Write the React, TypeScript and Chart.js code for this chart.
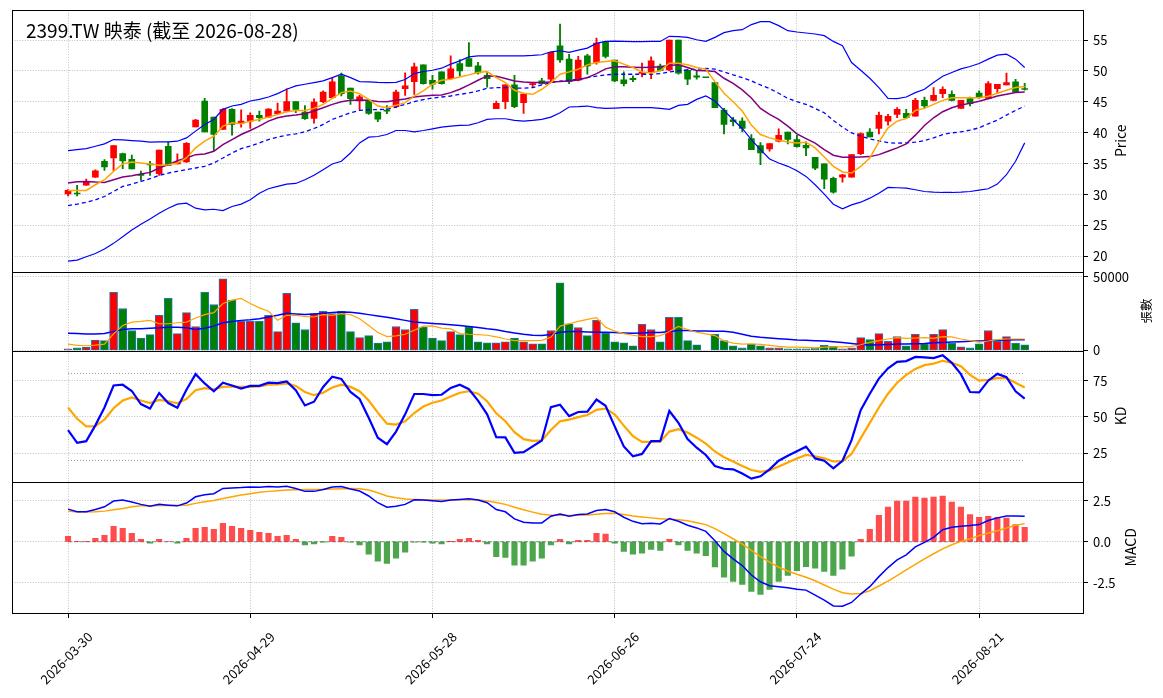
import React, { useEffect, useRef } from "react";
import { Chart, registerables } from "chart.js";

Chart.register(...registerables);

const FONT = "'Noto Sans CJK TC', 'Noto Sans', sans-serif";
const TITLE = "2399.TW 映泰 (截至 2026-08-28)";

// trading calendar
const FIRST_DAY = "2026-03-30";
const HOLIDAYS = ["2026-04-03", "2026-04-06", "2026-05-01", "2026-06-19"];
const BAR_COUNT = 106;
const TICK_INDEX = [0, 20, 40, 60, 80, 100];

const PRICE_TICKS = [20, 25, 30, 35, 40, 45, 50, 55];
const VOLUME_TICKS = [0, 50000];
const KD_TICKS = [25, 50, 75];
const KD_LEVELS = [20, 80];
const MACD_TICKS = [-2.5, 0, 2.5];

const OPEN = [
  30.1, 30.2, 31.55, 32.84, 35.4, 35.93, 36.64, 35.72, 33.3, 35.0,
  33.4, 37.83, 34.96, 35.28, 40.97, 45.14, 42.54, 40.54, 43.79, 41.57,
  41.89, 42.81, 42.54, 43.08, 43.5, 45.03, 43.35, 42.32, 45.03, 45.68,
  49.2, 47.25, 45.14, 45.25, 43.35, 43.6, 44.22, 47.15, 48.28, 50.99,
  48.5, 49.85, 48.77, 51.2, 52.02, 50.83, 49.31, 43.9, 45.03, 47.74,
  44.87, 47.8, 48.39, 48.66, 54.08, 51.91, 48.5, 52.45, 51.37, 54.7,
  51.75, 48.55, 48.8, 49.6, 49.85, 50.8, 50.18, 55.0, 50.12, 49.2,
  48.95, 48.12, 43.68, 42.1, 41.89, 39.07, 37.94, 37.4, 38.64, 40.1,
  38.9, 37.99, 36.04, 35.0, 32.63, 32.84, 32.84, 36.64, 40.1, 40.7,
  41.89, 42.97, 43.14, 42.7, 45.25, 45.25, 46.33, 46.22, 43.95, 45.52,
  46.44, 45.57, 47.15, 47.74, 48.23, 47.1,
];
const HIGH = [
  30.8, 31.5, 32.5, 34.0, 35.66, 37.94, 36.74, 36.4, 33.8, 35.4,
  37.2, 38.5, 36.6, 38.4, 42.16, 45.57, 42.54, 43.9, 43.9, 43.7,
  43.24, 43.5, 43.9, 44.82, 47.1, 45.03, 44.4, 45.5, 46.77, 48.8,
  49.64, 47.25, 46.06, 45.25, 43.35, 44.4, 46.9, 49.7, 51.26, 50.99,
  49.3, 49.85, 52.45, 51.86, 54.6, 51.4, 49.75, 45.14, 47.74, 49.3,
  46.28, 48.1, 48.8, 53.0, 57.6, 52.7, 52.35, 52.7, 55.3, 54.7,
  51.75, 49.85, 49.2, 51.26, 52.3, 51.1, 55.0, 55.0, 50.29, 50.0,
  48.95, 48.12, 43.95, 42.5, 42.43, 39.7, 38.4, 38.26, 40.64, 40.1,
  39.61, 38.53, 36.04, 35.0, 32.84, 33.3, 36.47, 40.0, 40.7, 43.35,
  42.97, 44.06, 43.79, 45.57, 45.79, 47.3, 47.42, 46.77, 45.25, 45.79,
  46.77, 48.3, 47.85, 49.64, 48.66, 48.0,
];
const LOW = [
  29.8, 29.8, 31.5, 32.8, 33.9, 33.93, 34.2, 34.14, 32.3, 33.1,
  33.1, 34.74, 34.96, 35.2, 40.97, 40.16, 37.1, 40.54, 39.6, 40.9,
  40.7, 41.9, 42.43, 42.97, 43.5, 43.24, 42.16, 41.57, 44.87, 45.57,
  45.95, 44.6, 43.7, 42.97, 41.8, 43.1, 44.06, 46.06, 46.2, 47.85,
  47.04, 47.85, 48.66, 49.2, 50.72, 49.5, 47.4, 43.9, 43.9, 44.06,
  43.14, 47.4, 47.85, 48.28, 51.4, 47.96, 48.39, 49.5, 51.1, 52.1,
  48.28, 47.6, 48.28, 49.04, 48.77, 50.0, 50.02, 49.47, 47.8, 48.66,
  48.9, 44.06, 39.8, 41.1, 40.16, 37.29, 34.85, 37.02, 38.53, 38.2,
  37.67, 36.3, 34.04, 30.95, 30.24, 32.0, 32.84, 36.47, 39.34, 39.83,
  41.24, 42.43, 42.32, 42.7, 44.06, 45.14, 45.68, 45.14, 43.95, 44.33,
  45.57, 45.57, 46.33, 47.74, 46.6, 46.9,
];
const CLOSE = [
  30.7, 30.1, 31.98, 33.87, 34.47, 37.94, 35.44, 34.14, 33.1, 34.8,
  37.2, 34.74, 35.28, 38.3, 42.05, 40.16, 39.72, 43.79, 41.35, 41.89,
  42.81, 42.43, 43.84, 43.5, 45.03, 43.79, 42.27, 44.98, 46.6, 48.23,
  46.33, 45.52, 45.8, 43.14, 42.2, 43.5, 46.6, 47.6, 50.67, 47.96,
  47.85, 47.96, 50.34, 50.0, 50.72, 49.69, 48.77, 44.76, 47.74, 44.22,
  46.28, 47.95, 47.96, 53.0, 51.8, 48.28, 51.75, 50.83, 54.5, 52.35,
  48.39, 47.96, 48.6, 49.8, 51.64, 50.1, 55.0, 49.64, 48.66, 49.0,
  48.9, 44.06, 41.35, 41.8, 40.7, 37.29, 36.74, 38.26, 39.61, 38.91,
  37.77, 37.56, 34.3, 32.5, 30.41, 33.2, 36.47, 39.89, 39.34, 42.81,
  42.65, 43.79, 42.43, 45.25, 44.33, 46.06, 47.04, 45.25, 45.25, 44.71,
  45.68, 47.96, 47.85, 48.12, 46.6, 47.0,
];

const MA5 = [
  30.68, 30.68, 30.68, 31.6, 32.41, 33.77, 34.96, 35.28, 35.12, 34.96,
  34.74, 34.85, 35.12, 35.93, 37.56, 38.64, 39.45, 41.08, 41.62, 41.46,
  41.89, 42.16, 42.54, 42.97, 43.41, 43.62, 43.62, 43.95, 44.6, 45.57,
  46.5, 46.77, 46.33, 45.41, 44.33, 44.06, 44.44, 44.87, 45.95, 46.77,
  47.85, 48.5, 48.66, 49.04, 49.37, 49.75, 49.91, 48.93, 48.12, 46.87,
  46.39, 46.22, 47.04, 48.12, 49.47, 49.85, 50.29, 50.99, 51.37, 51.53,
  51.64, 51.1, 50.56, 49.85, 49.69, 50.02, 51.26, 51.26, 50.99, 50.56,
  50.29, 48.28, 46.39, 45.03, 43.52, 41.24, 39.72, 39.18, 38.8, 38.53,
  38.37, 38.48, 37.56, 36.09, 34.58, 33.66, 33.49, 34.58, 35.93, 38.53,
  40.81, 41.89, 42.32, 43.62, 43.95, 44.6, 45.25, 45.68, 45.68, 45.68,
  45.68, 45.9, 46.39, 46.87, 47.31, 47.47,
];
const MA10 = [
  31.87, 32.09, 32.14, 32.03, 31.98, 32.41, 32.84, 33.06, 33.33, 33.6,
  34.31, 34.85, 35.5, 35.93, 36.47, 36.58, 37.02, 38.1, 38.91, 39.72,
  40.37, 41.08, 41.89, 42.43, 42.7, 42.87, 43.08, 43.52, 44.06, 44.6,
  45.03, 45.25, 45.3, 45.25, 45.06, 45.03, 45.25, 45.47, 45.79, 45.95,
  46.06, 46.12, 46.5, 47.04, 47.74, 48.5, 49.2, 49.15, 48.77, 48.39,
  48.23, 48.12, 48.12, 48.23, 48.28, 48.39, 48.55, 48.93, 49.58, 50.34,
  50.67, 50.67, 50.61, 50.56, 50.61, 50.67, 50.88, 50.99, 50.56, 50.07,
  50.02, 49.91, 48.82, 48.01, 46.93, 45.63, 43.95, 42.97, 42.16, 41.08,
  39.83, 39.07, 38.32, 37.29, 36.37, 36.04, 36.04, 36.09, 36.15, 36.47,
  37.02, 37.56, 38.21, 39.62, 41.19, 42.43, 43.41, 44.06, 44.49, 44.76,
  45.09, 45.52, 45.95, 46.22, 46.5, 46.6,
];
const MA20 = [
  28.24, 28.46, 28.78, 29.16, 29.7, 30.51, 31.33, 31.71, 32.14, 32.57,
  33.12, 33.49, 33.77, 34.04, 34.31, 34.58, 35.12, 35.93, 36.74, 37.45,
  37.83, 38.37, 38.91, 39.29, 39.62, 39.83, 40.16, 40.7, 41.35, 42.16,
  42.7, 43.24, 43.62, 43.73, 43.76, 43.79, 44.17, 44.6, 45.03, 45.36,
  45.63, 45.79, 45.95, 46.22, 46.44, 46.77, 47.2, 47.31, 47.31, 47.25,
  47.2, 47.31, 47.74, 48.12, 48.34, 48.5, 48.66, 48.93, 49.15, 49.37,
  49.47, 49.47, 49.47, 49.47, 49.47, 49.58, 49.85, 50.02, 50.18, 50.29,
  50.4, 50.29, 49.85, 49.37, 48.93, 48.39, 47.74, 47.15, 46.39, 45.57,
  45.03, 44.6, 43.95, 43.24, 42.0, 40.92, 39.99, 39.45, 39.02, 38.69,
  38.42, 38.32, 38.37, 38.48, 38.75, 39.18, 39.72, 39.99, 40.16, 40.43,
  40.81, 41.46, 42.05, 42.87, 43.62, 44.33,
];
const BB_UPPER = [
  37.12, 37.29, 37.45, 37.83, 38.21, 38.91, 38.86, 38.75, 38.64, 38.48,
  38.53, 38.53, 38.64, 39.18, 40.27, 41.35, 42.16, 43.79, 44.33, 44.6,
  45.14, 45.41, 45.79, 46.33, 47.04, 47.58, 47.85, 48.12, 48.39, 48.93,
  49.47, 48.93, 48.28, 48.23, 48.15, 48.12, 48.17, 48.61, 49.58, 49.91,
  50.12, 50.45, 51.1, 51.64, 52.29, 52.45, 52.45, 52.45, 52.45, 52.45,
  52.45, 52.51, 52.62, 53.1, 53.27, 53.0, 53.37, 53.7, 54.46, 54.78,
  54.84, 54.78, 54.73, 54.73, 54.78, 54.78, 55.6, 55.54, 55.43, 55.05,
  54.78, 55.43, 56.19, 56.52, 56.68, 57.5, 57.98, 57.98, 57.33, 56.52,
  56.3, 56.14, 55.98, 55.71, 54.78, 54.08, 51.37, 50.12, 48.82, 47.31,
  45.57, 45.52, 45.79, 46.5, 47.04, 48.12, 49.15, 49.75, 50.34, 50.72,
  51.21, 51.91, 52.56, 52.72, 51.91, 50.56,
];
const BB_LOWER = [
  19.25, 19.41, 19.95, 20.49, 21.2, 22.12, 23.2, 24.28, 25.21, 26.07,
  26.99, 27.81, 28.46, 28.62, 27.81, 27.54, 27.64, 27.43, 28.08, 28.46,
  29.16, 30.24, 30.95, 31.33, 31.71, 31.81, 32.41, 33.12, 34.04, 34.96,
  35.39, 36.74, 38.37, 39.29, 39.4, 39.72, 40.37, 40.37, 40.16, 40.37,
  40.64, 40.92, 41.08, 41.19, 41.24, 41.62, 42.16, 42.27, 42.27, 42.0,
  41.89, 42.0, 42.16, 42.54, 43.24, 44.17, 44.22, 44.33, 44.06, 43.95,
  44.0, 44.06, 44.06, 44.06, 44.06, 43.95, 43.79, 44.44, 44.6, 45.41,
  45.95, 45.14, 43.62, 42.11, 40.7, 38.91, 37.29, 35.77, 35.12, 34.58,
  33.87, 32.95, 31.6, 30.08, 28.46, 27.7, 28.35, 28.78, 29.43, 30.24,
  31.17, 31.11, 31.06, 30.79, 30.51, 30.41, 30.35, 30.35, 30.41, 30.51,
  30.73, 30.95, 31.71, 33.22, 35.39, 38.37,
];

// 張數
const VOLUME = [
  1140, 1860, 2300, 7120, 6650, 39460, 28440, 13540, 8480, 10780,
  23850, 35320, 11460, 25700, 16280, 39460, 31200, 48630, 34180, 19720,
  19720, 19720, 23850, 12840, 38760, 18810, 14220, 25000, 26610, 25000,
  26610, 12840, 8720, 10100, 5040, 5960, 16280, 14220, 27980, 15830,
  8480, 6650, 12840, 10780, 16280, 5960, 5280, 5280, 5960, 8480,
  5960, 4590, 4590, 13540, 45880, 18120, 15600, 10100, 20420, 11700,
  5960, 5280, 3220, 17660, 14220, 5960, 22480, 22480, 6650, 3900,
  0, 11010, 6650, 3220, 1840, 4120, 3220, 1840, 1840, 1140,
  1140, 1140, 1600, 3440, 2760, 1140, 1840, 8720, 7340, 11460,
  6200, 9400, 3220, 11010, 4590, 11010, 14220, 4820, 2520, 1840,
  4590, 13540, 6200, 9400, 4820, 3900,
];
const VOL_MA5 = [
  4360, 3440, 3220, 3670, 4360, 11240, 16980, 19260, 19720, 20420,
  18120, 18120, 18810, 19260, 22020, 24320, 25700, 31880, 34180, 35320,
  31880, 28900, 26610, 20420, 23860, 23860, 23160, 22710, 24320, 23860,
  25000, 24320, 21560, 16980, 12160, 9400, 9860, 11020, 13760, 16520,
  16740, 15140, 14680, 11470, 11020, 10780, 10320, 9180, 7800, 6660,
  6660, 6660, 6880, 8940, 16520, 18120, 19720, 21100, 22260, 15820,
  13080, 11470, 10320, 9400, 9400, 10100, 12840, 16280, 14220, 12380,
  11240, 10100, 6420, 5040, 4360, 4580, 4120, 3440, 2760, 2300,
  2300, 2060, 1840, 2300, 2520, 2520, 2760, 3900, 5500, 6660,
  7800, 8720, 8260, 8480, 8720, 8260, 9400, 9180, 7800, 6660,
  5740, 6420, 7340, 7800, 7800, 7800,
];
const VOL_MA20 = [
  11700, 11470, 11240, 11240, 11470, 12840, 14220, 14680, 14680, 15140,
  15360, 15820, 15820, 15360, 14220, 15140, 16520, 18810, 19720, 20420,
  20880, 21560, 22710, 23860, 25240, 24780, 24320, 24780, 25240, 25700,
  26150, 25920, 25240, 24320, 23400, 22480, 21560, 20420, 19260, 18810,
  18360, 17900, 17440, 16980, 16280, 15600, 14680, 14000, 12840, 11920,
  11020, 10320, 10100, 10780, 12380, 12840, 12840, 12620, 12380, 12380,
  12160, 11920, 11700, 11920, 12160, 12160, 12840, 13540, 13540, 13300,
  13300, 13080, 13080, 12380, 11020, 9640, 8940, 8480, 8020, 7570,
  7120, 6880, 6660, 6420, 5960, 5500, 4820, 4120, 3670, 3900,
  4120, 4360, 4360, 4580, 4820, 5280, 5500, 5740, 5960, 6200,
  6420, 6660, 6880, 7120, 7340, 7340,
];

const K_LINE = [
  40.88, 32.1, 33.3, 44.2, 56.5, 71.7, 72.2, 67.9, 58.9, 55.8,
  66.5, 59.6, 56.3, 68.8, 79.5, 73.1, 67.7, 73.6, 71.7, 69.5,
  71.4, 71.4, 73.6, 73.3, 74.5, 68.4, 57.9, 60.5, 70.7, 77.8,
  76.2, 67.2, 62.4, 49.4, 35.7, 31.2, 39.9, 51.8, 65.8, 65.8,
  65.0, 65.3, 70.0, 72.2, 69.1, 61.3, 51.8, 36.1, 35.9, 25.2,
  25.7, 29.7, 33.8, 56.8, 58.4, 50.6, 53.4, 53.7, 62.0, 57.7,
  43.5, 29.7, 22.9, 24.5, 33.3, 33.3, 54.1, 45.9, 34.7, 28.8,
  23.8, 16.2, 14.3, 13.9, 11.0, 7.5, 9.1, 13.9, 19.8, 23.3,
  26.4, 29.5, 21.4, 19.8, 14.6, 19.8, 34.0, 54.6, 66.0, 76.4,
  83.5, 88.0, 88.5, 91.4, 91.1, 90.6, 92.5, 87.3, 79.5, 67.2,
  66.9, 75.0, 79.7, 77.4, 67.7, 62.7,
];
const D_LINE = [
  56.5, 48.7, 43.5, 43.7, 48.2, 56.0, 61.3, 63.4, 61.3, 59.6,
  61.7, 60.8, 59.4, 62.4, 68.4, 69.8, 69.1, 70.7, 71.0, 70.7,
  70.7, 71.0, 72.2, 72.4, 73.1, 71.4, 67.2, 65.0, 66.7, 70.3,
  72.2, 70.7, 67.7, 61.3, 53.0, 45.4, 44.7, 47.0, 52.7, 57.2,
  59.8, 61.3, 64.1, 66.7, 67.7, 66.0, 60.8, 52.5, 47.0, 39.5,
  34.7, 33.5, 33.8, 41.0, 47.0, 48.2, 49.9, 51.3, 54.9, 55.8,
  51.8, 44.0, 36.8, 32.8, 32.8, 33.1, 39.9, 41.6, 39.2, 35.7,
  31.6, 26.2, 22.2, 19.3, 16.2, 13.4, 12.2, 13.2, 15.8, 18.6,
  21.4, 23.8, 22.9, 21.4, 19.3, 19.5, 24.5, 35.2, 45.9, 56.5,
  66.0, 73.6, 79.0, 83.1, 85.7, 86.8, 88.7, 87.3, 85.0, 79.0,
  75.0, 75.5, 76.7, 76.7, 73.6, 70.3,
];

const MACD_DIF = [
  1.98, 1.82, 1.82, 1.96, 2.12, 2.47, 2.53, 2.41, 2.27, 2.16,
  2.27, 2.22, 2.18, 2.35, 2.73, 2.86, 2.92, 3.24, 3.27, 3.29,
  3.33, 3.31, 3.35, 3.33, 3.37, 3.24, 3.06, 3.06, 3.18, 3.33,
  3.35, 3.2, 3.08, 2.78, 2.37, 2.1, 2.16, 2.27, 2.55, 2.53,
  2.49, 2.45, 2.53, 2.57, 2.61, 2.53, 2.37, 1.96, 1.82, 1.39,
  1.18, 1.14, 1.14, 1.55, 1.69, 1.55, 1.65, 1.69, 1.9, 1.96,
  1.82, 1.49, 1.24, 1.1, 1.12, 1.08, 1.41, 1.24, 1.0, 0.84,
  0.63, 0.06, -0.59, -1.04, -1.45, -2.02, -2.43, -2.67, -2.73, -2.8,
  -2.88, -2.94, -3.24, -3.55, -3.9, -3.92, -3.69, -3.18, -2.73, -2.12,
  -1.57, -1.1, -0.8, -0.31, -0.04, 0.27, 0.73, 0.88, 0.94, 0.98,
  1.04, 1.29, 1.45, 1.57, 1.57, 1.55,
];
const MACD_DEA = [
  1.86, 1.8, 1.8, 1.82, 1.86, 1.94, 2.02, 2.12, 2.18, 2.18,
  2.2, 2.2, 2.2, 2.22, 2.33, 2.43, 2.51, 2.63, 2.73, 2.84,
  2.92, 3.0, 3.06, 3.1, 3.14, 3.16, 3.18, 3.18, 3.18, 3.2,
  3.22, 3.24, 3.22, 3.14, 2.98, 2.78, 2.67, 2.59, 2.57, 2.55,
  2.53, 2.53, 2.53, 2.55, 2.57, 2.55, 2.47, 2.39, 2.27, 2.1,
  1.94, 1.8, 1.67, 1.61, 1.61, 1.59, 1.61, 1.63, 1.67, 1.71,
  1.73, 1.65, 1.57, 1.51, 1.45, 1.39, 1.37, 1.33, 1.27, 1.16,
  1.04, 0.8, 0.49, 0.18, -0.14, -0.53, -0.9, -1.24, -1.55, -1.78,
  -1.98, -2.16, -2.37, -2.63, -2.88, -3.1, -3.18, -3.14, -2.98, -2.69,
  -2.39, -2.06, -1.71, -1.37, -1.04, -0.73, -0.43, -0.18, 0.02, 0.18,
  0.37, 0.53, 0.67, 0.84, 1.0, 1.1,
];
const MACD_HIST = [
  0.33, 0.02, 0.03, 0.2, 0.39, 0.94, 0.82, 0.51, 0.14, -0.08,
  0.14, 0.0, -0.08, 0.2, 0.82, 0.88, 0.76, 1.12, 0.94, 0.82,
  0.69, 0.57, 0.51, 0.33, 0.39, 0.14, -0.2, -0.14, -0.01, 0.33,
  0.27, -0.02, -0.2, -0.76, -1.18, -1.31, -1.0, -0.63, -0.02, -0.01,
  -0.08, -0.14, 0.01, 0.14, 0.2, 0.08, -0.14, -0.9, -0.96, -1.43,
  -1.43, -1.18, -1.0, -0.2, 0.14, -0.14, 0.08, 0.08, 0.51, 0.47,
  -0.08, -0.59, -0.76, -0.69, -0.47, -0.53, 0.14, -0.2, -0.53, -0.69,
  -0.84, -1.53, -2.16, -2.41, -2.59, -3.02, -3.2, -2.9, -2.41, -2.04,
  -1.76, -1.51, -1.61, -1.8, -2.04, -1.67, -0.88, 0.14, 0.76, 1.61,
  2.1, 2.47, 2.47, 2.71, 2.65, 2.71, 2.78, 2.41, 2.1, 1.65,
  1.49, 1.55, 1.49, 1.43, 1.04, 0.88,
];

function tradingDays(): string[] {
  const out: string[] = [];
  const d = new Date(FIRST_DAY + "T00:00:00Z");
  while (out.length < BAR_COUNT) {
    const s = d.toISOString().slice(0, 10);
    const wd = d.getUTCDay();
    if (wd !== 0 && wd !== 6 && !HOLIDAYS.includes(s)) out.push(s);
    d.setUTCDate(d.getUTCDate() + 1);
  }
  return out;
}

const DATES = tradingDays();

const GRID = "#b0b0b0";
const UP = "#ff0000";
const DOWN = "#008000";

const series = (values: number[]) => values.map((y, x) => ({ x, y }));
const lineSet = (
  data: number[],
  axis: string,
  color: string,
  width: number,
  order: number,
  dash: number[] = []
) => ({
  type: "line" as const,
  data: series(data),
  yAxisID: axis,
  borderColor: color,
  borderWidth: width,
  borderDash: dash,
  pointRadius: 0,
  tension: 0,
  fill: false,
  order,
});
const levelSet = (level: number, axis: string, color: string, dash: number[]) => ({
  type: "line" as const,
  data: [
    { x: 0, y: level },
    { x: BAR_COUNT - 1, y: level },
  ],
  yAxisID: axis,
  borderColor: color,
  borderWidth: 1,
  borderDash: dash,
  pointRadius: 0,
  order: 20,
});

const fixedTicks = (values: number[]) => (scale: any) => {
  scale.ticks = values.map((value) => ({ value }));
};

const yAxis = (
  min: number,
  max: number,
  weight: number,
  ticks: number[],
  format: (v: number) => string
) => ({
  type: "linear" as const,
  position: "right" as const,
  stack: "panels",
  stackWeight: weight,
  min,
  max,
  afterBuildTicks: fixedTicks(ticks),
  afterFit: (scale: any) => {
    scale.width = 80;
    scale.paddingTop = 0;
    scale.paddingBottom = 0;
  },
  border: { display: false, dash: [1, 1.6] },
  grid: {
    color: GRID,
    lineWidth: 0.8,
    drawTicks: true,
    tickLength: 5,
    tickColor: "#000",
    tickWidth: 1,
    tickBorderDash: [],
  },
  ticks: {
    padding: 5,
    color: "#000",
    font: { family: FONT, size: 13 },
    callback: (v: any) => format(Number(v)),
  },
});

const panelPlugin = {
  id: "panels",
  afterDraw(chart: any) {
    const { ctx, chartArea } = chart;
    ctx.save();
    ctx.strokeStyle = "#000";
    ctx.lineWidth = 1;
    ctx.setLineDash([]);
    for (const id of ["yP", "yV", "yK", "yM"]) {
      const s = chart.scales[id];
      const top = Math.round(s.top) + 0.5;
      const bottom = Math.round(s.bottom) + 0.5;
      ctx.strokeRect(
        Math.round(chartArea.left) + 0.5,
        top,
        Math.round(chartArea.right - chartArea.left),
        bottom - top
      );
    }

    ctx.fillStyle = "#000";
    ctx.font = `19px ${FONT}`;
    ctx.textAlign = "left";
    ctx.textBaseline = "middle";
    ctx.fillText(TITLE, 26, 31);

    const axisTitle = (text: string, x: number, id: string, size: number) => {
      const s = chart.scales[id];
      ctx.save();
      ctx.translate(x, (s.top + s.bottom) / 2);
      ctx.rotate(-Math.PI / 2);
      ctx.font = `${size}px ${FONT}`;
      ctx.textAlign = "center";
      ctx.textBaseline = "middle";
      ctx.fillText(text, 0, 0);
      ctx.restore();
    };
    axisTitle("Price", 1121, "yP", 14);
    axisTitle("張數", 1146, "yV", 12.5);
    axisTitle("KD", 1121, "yK", 14);
    axisTitle("MACD", 1131, "yM", 14);
    ctx.restore();
  },
};

const App: React.FC = () => {
  const canvasRef = useRef<HTMLCanvasElement | null>(null);
  const chartRef = useRef<Chart | null>(null);

  useEffect(() => {
    if (chartRef.current) chartRef.current.destroy();
    const ctx = canvasRef.current?.getContext("2d");
    if (!ctx) return;

    const candleColors = CLOSE.map((c, i) => (c >= OPEN[i] ? UP : DOWN));
    const histColors = MACD_HIST.map((v) =>
      v >= 0 ? "rgba(255, 0, 0, 0.7)" : "rgba(0, 128, 0, 0.7)"
    );

    chartRef.current = new Chart(ctx, {
      type: "bar",
      data: {
        datasets: [
          // price panel
          lineSet(MA5, "yP", "#ffa500", 1.5, 1),
          lineSet(MA10, "yP", "#800080", 1.5, 2),
          lineSet(MA20, "yP", "#0000ff", 1.3, 3, [4, 3]),
          lineSet(BB_UPPER, "yP", "#0000ff", 1.2, 4),
          lineSet(BB_LOWER, "yP", "#0000ff", 1.2, 5),
          {
            type: "bar",
            data: OPEN.map((o, i) => ({ x: i, y: [o, CLOSE[i]] })),
            yAxisID: "yP",
            backgroundColor: candleColors,
            barThickness: 6,
            minBarLength: 1,
            grouped: false,
            order: 8,
          },
          {
            type: "bar",
            data: LOW.map((l, i) => ({ x: i, y: [l, HIGH[i]] })),
            yAxisID: "yP",
            backgroundColor: candleColors,
            barThickness: 1.2,
            grouped: false,
            order: 9,
          },
          // volume panel
          lineSet(VOL_MA5, "yV", "#ffa500", 1.2, 1),
          lineSet(VOL_MA20, "yV", "#0000ff", 1.5, 2),
          {
            type: "bar",
            data: series(VOLUME),
            yAxisID: "yV",
            backgroundColor: candleColors,
            borderColor: "#1f77b4",
            borderWidth: 1,
            borderSkipped: false,
            barThickness: 8,
            grouped: false,
            order: 10,
          },
          // KD panel
          lineSet(K_LINE, "yK", "#0000ff", 2.2, 1),
          lineSet(D_LINE, "yK", "#ffa500", 2.2, 2),
          ...KD_LEVELS.map((lv) => levelSet(lv, "yK", "#999999", [1, 2])),
          // MACD panel
          lineSet(MACD_DIF, "yM", "#0000ff", 1.5, 1),
          lineSet(MACD_DEA, "yM", "#ffa500", 1.5, 2),
          levelSet(0, "yM", "#888888", [4, 2]),
          {
            type: "bar",
            data: series(MACD_HIST),
            yAxisID: "yM",
            backgroundColor: histColors,
            barThickness: 5.5,
            grouped: false,
            order: 10,
          },
        ] as any,
      },
      options: {
        animation: false,
        responsive: true,
        maintainAspectRatio: false,
        layout: { padding: { left: 12, top: 10, right: 0, bottom: 0 } },
        plugins: { legend: { display: false }, tooltip: { enabled: false } },
        scales: {
          x: {
            type: "linear",
            position: "bottom",
            min: -6.15,
            max: 111.4,
            offset: false,
            afterBuildTicks: fixedTicks(TICK_INDEX),
            afterFit: (scale: any) => {
              scale.height = 85;
              scale.paddingLeft = 0;
              scale.paddingRight = 0;
            },
            border: { display: false, dash: [1, 1.6] },
            grid: {
              offset: false,
              color: GRID,
              lineWidth: 0.8,
              drawTicks: true,
              tickLength: 5,
              tickColor: "#000",
              tickWidth: 1,
              tickBorderDash: [],
            },
            ticks: {
              autoSkip: false,
              minRotation: 45,
              maxRotation: 45,
              padding: 11,
              labelOffset: 22,
              color: "#000",
              font: { family: FONT, size: 13 },
              callback: (v: any) => DATES[Number(v)] ?? "",
            },
          },
          yP: yAxis(17.57, 59.86, 261.5, PRICE_TICKS, (v) => String(v)),
          yV: yAxis(0, 53550, 79, VOLUME_TICKS, (v) => String(v)),
          yK: yAxis(5.5, 95.8, 131, KD_TICKS, (v) => String(v)),
          yM: yAxis(-4.33, 3.66, 131.5, MACD_TICKS, (v) => v.toFixed(1)),
        } as any,
      },
      plugins: [panelPlugin],
    });

    return () => {
      if (chartRef.current) chartRef.current.destroy();
      chartRef.current = null;
    };
  }, []);

  return (
    <div style={{ position: "absolute", left: 0, top: 0, width: 1163, height: 698, background: "#fff" }}>
      <canvas ref={canvasRef}></canvas>
    </div>
  );
};

export default App;
